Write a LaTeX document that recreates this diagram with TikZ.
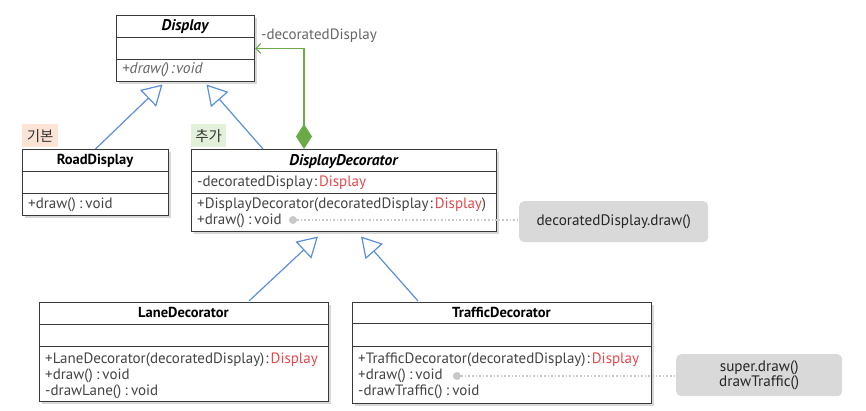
\documentclass[tikz,border=0pt]{standalone}
\usepackage{fontspec}
\setmainfont{PT Sans}
\newfontfamily\krfont{Noto Sans CJK KR}
\usetikzlibrary{arrows.meta,shadows,calc}
\definecolor{boxline}{HTML}{3A3A3A}
\definecolor{membertxt}{HTML}{444444}
\definecolor{italtxt}{HTML}{666666}
\definecolor{redtxt}{HTML}{E5484D}
\definecolor{inhblue}{HTML}{5B8FDB}
\definecolor{compgreen}{HTML}{6AAB47}
\definecolor{notefill}{HTML}{D9D9D9}
\definecolor{dotgray}{HTML}{C8C8C8}
\definecolor{peach}{HTML}{FCE3D6}
\definecolor{lightgreen}{HTML}{E3F0DA}
\newcommand{\vcol}{\kern3.2pt:\kern3.2pt}
\begin{document}
\begin{tikzpicture}[x=1pt,y=-1pt,
  cls/.style={draw=boxline, line width=1pt, fill=white, rectangle, inner sep=0pt, anchor=north west,
    drop shadow={shadow xshift=2.5pt, shadow yshift=-2.5pt, opacity=0.3}},
  sep/.style={draw=boxline, line width=0.8pt},
  ttl/.style={font=\fontsize{14.5}{16}\selectfont\bfseries, text=black, inner sep=0pt, anchor=base},
  ttli/.style={font=\fontsize{15.5}{16}\selectfont\bfseries\itshape, text=black, inner sep=0pt, anchor=base},
  mem/.style={font=\fontsize{15}{16}\selectfont, text=membertxt, inner sep=0pt, anchor=base west},
  memi/.style={font=\fontsize{15.5}{16}\selectfont\itshape, text=italtxt, inner sep=0pt, anchor=base west},
  inh/.style={draw=inhblue, line width=1.2pt, -{Triangle[open, length=20pt, width=23pt, line width=1.2pt]}},
  comp/.style={draw=compgreen, line width=1.3pt, {Diamond[length=25pt, width=16pt]}-{Straight Barb[length=5pt, width=10pt, line width=1.2pt]}},
  notebox/.style={fill=notefill, rounded corners=5pt, inner sep=0pt, anchor=north west,
    font=\fontsize{15.2}{15}\selectfont, text=black!85, align=center},
  tagbox/.style={inner sep=0pt, anchor=north west, font=\krfont\fontsize{14.5}{16}\selectfont, text=black!80},
  link/.style={draw=dotgray, line width=1.6pt, dotted},
  dotnode/.style={circle, fill=dotgray, inner sep=0pt, minimum size=8pt}
]
\fill[white] (0,0) rectangle (866,411);
\useasboundingbox (0,0) rectangle (866,411);

% Display
\node[cls, minimum width=138pt, minimum height=66pt] (display) at (116,15) {};
\draw[sep] ($(display.north west)+(0,22)$) -- ($(display.north east)+(0,22)$);
\draw[sep] ($(display.north west)+(0,44)$) -- ($(display.north east)+(0,44)$);
\node[ttli] (displayT) at (185,31) {Display};
\node[memi] (displayM) at (122,74) {+draw()\kern1.5pt:\kern1.5pt void};

% RoadDisplay
\node[cls, minimum width=146pt, minimum height=66pt] (road) at (22,149) {};
\draw[sep] ($(road.north west)+(0,22)$) -- ($(road.north east)+(0,22)$);
\draw[sep] ($(road.north west)+(0,44)$) -- ($(road.north east)+(0,44)$);
\node[ttl] (roadT) at (95,165) {RoadDisplay};
\node[mem] (roadM) at (28,209) {+draw()\vcol void};

% DisplayDecorator
\node[cls, minimum width=305pt, minimum height=82pt] (dd) at (191,149) {};
\draw[sep] ($(dd.north west)+(0,22)$) -- ($(dd.north east)+(0,22)$);
\draw[sep] ($(dd.north west)+(0,44)$) -- ($(dd.north east)+(0,44)$);
\node[ttli] (ddT) at (343.5,165.5) {DisplayDecorator};
\node[mem] (ddA) at (197,187) {-decoratedDisplay\kern1pt:\kern2pt\textcolor{redtxt}{Display}};
\node[mem] (ddM1) at (197,209) {+DisplayDecorator(decoratedDisplay\kern1pt:\kern2pt\textcolor{redtxt}{Display})};
\node[mem] (ddM2) at (197,225) {+draw()\vcol void};

% LaneDecorator
\node[cls, minimum width=289pt, minimum height=99pt] (lane) at (39,302) {};
\draw[sep] ($(lane.north west)+(0,22)$) -- ($(lane.north east)+(0,22)$);
\draw[sep] ($(lane.north west)+(0,44)$) -- ($(lane.north east)+(0,44)$);
\node[ttl] (laneT) at (183.5,317.5) {LaneDecorator};
\node[mem] (laneM1) at (45,363) {+LaneDecorator(decoratedDisplay)\kern1pt:\kern2pt\textcolor{redtxt}{Display}};
\node[mem] (laneM2) at (45,379) {+draw()\vcol void};
\node[mem] (laneM3) at (45,395) {-drawLane()\vcol void};

% TrafficDecorator
\node[cls, minimum width=299pt, minimum height=101pt] (traffic) at (352,302) {};
\draw[sep] ($(traffic.north west)+(0,21)$) -- ($(traffic.north east)+(0,21)$);
\draw[sep] ($(traffic.north west)+(0,44)$) -- ($(traffic.north east)+(0,44)$);
\node[ttl] (trafficT) at (501.5,317) {TrafficDecorator};
\node[mem] (trafficM1) at (358,363) {+TrafficDecorator(decoratedDisplay)\kern1pt:\kern2pt\textcolor{redtxt}{Display}};
\node[mem] (trafficM2) at (358,379) {+draw()\vcol void};
\node[mem] (trafficM3) at (358,395) {-drawTraffic()\vcol void};

% tags
\node[tagbox, fill=peach, minimum width=36pt, minimum height=23pt] (tagbasic) at (22,124) {기본};
\node[tagbox, fill=lightgreen, minimum width=35pt, minimum height=23pt] (tagadd) at (191,124) {추가};

% notes
\node[notebox, minimum width=189pt, minimum height=41pt] (note1) at (519,201) {decoratedDisplay.draw()};
\node[notebox, minimum width=166pt, minimum height=42pt] (note2) at (676,354) {super.draw()\\drawTraffic()};

% note links
\node[dotnode] (dot1) at (293,220) {};
\node[dotnode] (dot2) at (457,376) {};
\draw[link] (dot1) -- (dot1 -| note1.west);
\draw[link] (dot2) -- (dot2 -| note2.west);

% inheritance
\coordinate (dispTipL) at ($(display.south)+(-23,2.5)$);
\coordinate (dispTipR) at ($(display.south)+(21,2.5)$);
\coordinate (ddTipL) at ($(dd.south)+(-26,4.5)$);
\coordinate (ddTipR) at ($(dd.south)+(17,4.5)$);
\coordinate (ddTop) at ($(dd.north west)+(72,0)$);
\coordinate (laneTop) at ($(lane.north west)+(210,-1)$);
\coordinate (trafficTop) at ($(traffic.north west)+(66,-1)$);
\draw[inh] (road.north) -- (dispTipL);
\draw[inh] (ddTop) -- (dispTipR);
\draw[inh] (laneTop) -- (ddTipL);
\draw[inh] (trafficTop) -- (ddTipR);

% composition
\coordinate (ddComp) at ($(dd.north west)+(113,0)$);
\draw[comp] (ddComp) |- (display.east);
\node[mem, text=italtxt] (compLbl) at (261,40) {-decoratedDisplay};
\end{tikzpicture}
\end{document}
